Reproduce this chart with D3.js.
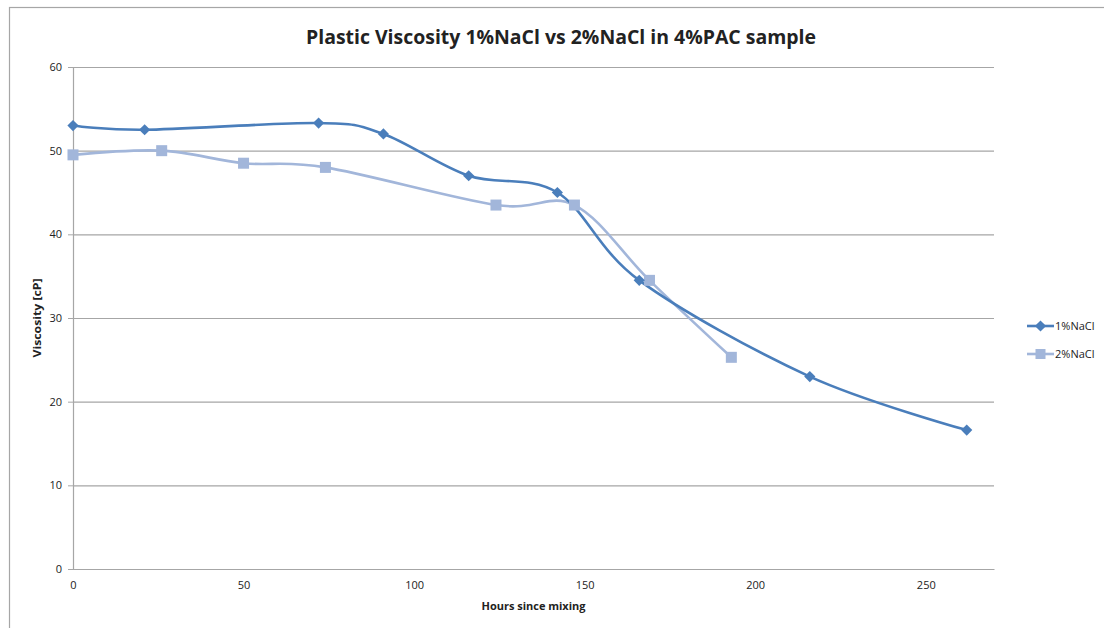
<!DOCTYPE html>
<html>
<head>
<meta charset="utf-8">
<script src="https://cdn.jsdelivr.net/npm/d3@7"></script>
<style>
  body { margin: 0; background: #fff; }
  text { font-family: "Open Sans", "DejaVu Sans", sans-serif; fill: #222; }
</style>
</head>
<body>
<svg id="chart"></svg>
<script>
// 1%NaCl series
const hours1 = [0, 21, 72, 91, 116, 142, 166, 216, 262];
const visc1 = [53, 52.5, 53.3, 52, 47, 45, 34.5, 23, 16.6];
// 2%NaCl series
const hours2 = [0, 26, 50, 74, 124, 147, 169, 193];
const visc2 = [49.5, 50, 48.5, 48, 43.5, 43.5, 34.5, 25.3];

const xTicks = [0, 50, 100, 150, 200, 250];
const yTicks = [0, 10, 20, 30, 40, 50, 60];
const seriesNames = ["1%NaCl", "2%NaCl"];

const W = 1104, H = 628;
const margin = { top: 67, right: 110, bottom: 59, left: 73 };
const width = W - margin.left - margin.right;
const height = H - margin.top - margin.bottom;

const svg = d3.select("#chart").attr("width", W).attr("height", H);

// chart frame
svg.append("rect")
    .attr("x", 9.5).attr("y", 7.5)
    .attr("width", W + 20).attr("height", H + 20)
    .attr("fill", "none").attr("stroke", "#a6a6a6").attr("stroke-width", 1.2);

const g = svg.append("g").attr("transform", `translate(${margin.left},${margin.top})`);

const x = d3.scaleLinear().domain([0, 270]).range([0, width]);
const y = d3.scaleLinear().domain([0, 60]).range([height, 0]);

// gridlines
g.append("g")
    .selectAll("line")
    .data(yTicks.filter(d => d > 0))
    .join("line")
    .attr("x1", 0).attr("x2", width)
    .attr("y1", d => y(d) + 0.5).attr("y2", d => y(d) + 0.5)
    .attr("stroke", "#a6a6a6").attr("stroke-width", 1.2);

// y axis
const yAxis = g.append("g")
    .call(d3.axisLeft(y).tickValues(yTicks).tickSize(5).tickPadding(6));
yAxis.select(".domain").attr("stroke", "#a6a6a6").attr("stroke-width", 1.2);
yAxis.selectAll(".tick line").attr("stroke", "#a6a6a6");
yAxis.selectAll("text").style("font-size", "11px").attr("fill", "#222");

// x axis
const xAxis = g.append("g")
    .attr("transform", `translate(0,${height})`)
    .call(d3.axisBottom(x).tickValues(xTicks).tickSize(0).tickPadding(12));
xAxis.select(".domain").attr("stroke", "#a6a6a6").attr("stroke-width", 1.2);
xAxis.selectAll("text").style("font-size", "11px").attr("fill", "#222");

// titles
svg.append("text")
    .attr("x", 561).attr("y", 44)
    .attr("text-anchor", "middle")
    .attr("textLength", 510).attr("lengthAdjust", "spacingAndGlyphs")
    .style("font-size", "19px").style("font-weight", "bold")
    .text("Plastic Viscosity 1%NaCl vs 2%NaCl in 4%PAC sample");

svg.append("text")
    .attr("x", margin.left + width / 2).attr("y", 610)
    .attr("text-anchor", "middle")
    .attr("textLength", 104).attr("lengthAdjust", "spacingAndGlyphs")
    .style("font-size", "10px").style("font-weight", "bold")
    .text("Hours since mixing");

svg.append("text")
    .attr("transform", "rotate(-90)")
    .attr("x", -318).attr("y", 41)
    .attr("text-anchor", "middle")
    .attr("textLength", 79).attr("lengthAdjust", "spacingAndGlyphs")
    .style("font-size", "10px").style("font-weight", "bold")
    .text("Viscosity [cP]");

// series
const data1 = hours1.map((h, i) => ({ x: h, y: visc1[i] }));
const data2 = hours2.map((h, i) => ({ x: h, y: visc2[i] }));

const line = d3.line()
    .x(d => x(d.x))
    .y(d => y(d.y))
    .curve(d3.curveCardinal.tension(0));

const col1 = "#4a7ebb", col2 = "#a2b6da";

g.append("path").datum(data2)
    .attr("fill", "none").attr("stroke", col2).attr("stroke-width", 2.6)
    .attr("d", line);
g.append("path").datum(data1)
    .attr("fill", "none").attr("stroke", col1).attr("stroke-width", 2.6)
    .attr("d", line);

const diamond = d3.symbol().type(d3.symbolDiamond2).size(80);

g.selectAll(".sq")
    .data(data2)
    .join("rect")
    .attr("x", d => x(d.x) - 5.5).attr("y", d => y(d.y) - 5.5)
    .attr("width", 11).attr("height", 11)
    .attr("fill", col2);

g.selectAll(".dm")
    .data(data1)
    .join("path")
    .attr("transform", d => `translate(${x(d.x)},${y(d.y)})`)
    .attr("d", diamond)
    .attr("fill", col1);

// legend
const legend = svg.append("g").attr("transform", "translate(1027,326)");
[col1, col2].forEach((c, i) => {
    const lg = legend.append("g").attr("transform", `translate(0,${i * 28})`);
    lg.append("line").attr("x1", 0).attr("x2", 27).attr("y1", 0).attr("y2", 0)
        .attr("stroke", c).attr("stroke-width", 2.6);
    if (i === 0) {
        lg.append("path").attr("transform", "translate(13.5,0)")
            .attr("d", diamond).attr("fill", c);
    } else {
        lg.append("rect").attr("x", 8.5).attr("y", -5).attr("width", 10).attr("height", 10)
            .attr("fill", c);
    }
    lg.append("text").attr("x", 28).attr("y", 4)
        .style("font-size", "11px")
        .text(seriesNames[i]);
});
</script>
</body>
</html>
